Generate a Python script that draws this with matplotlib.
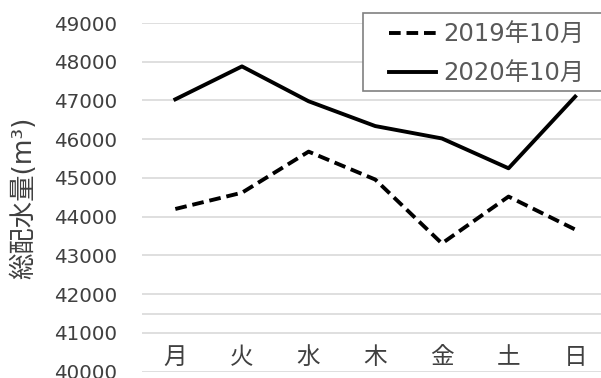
import matplotlib
matplotlib.use('Agg')
import matplotlib.pyplot as plt
from matplotlib.patches import Rectangle

plt.rcParams['font.family'] = ['DejaVu Sans', 'Noto Sans CJK JP']

days = ['月', '火', '水', '木', '金', '土', '日']
flow_2019 = [44200, 44620, 45680, 44960, 43310, 44520, 43670]
flow_2020 = [47030, 47880, 46980, 46340, 46020, 45250, 47100]
series_labels = ['2019年10月', '2020年10月']
y_ticks = list(range(40000, 49001, 1000))

W, H = 601, 378
fig = plt.figure(figsize=(W / 100, H / 100), dpi=100)
ax = fig.add_axes([142 / W, 6.3 / H, 466.5 / W, 348.7 / H])

x = range(len(days))
ax.plot(x, flow_2019, color='black', lw=2.8, linestyle=(0, (3, 1.5)),
        label=series_labels[0])
ax.plot(x, flow_2020, color='black', lw=2.8, label=series_labels[1])

ax.set_xlim(-0.5, 6.5)
ax.set_ylim(40000, 49000)
ax.set_yticks(y_ticks)
ax.set_yticklabels([str(v) for v in y_ticks])
ax.grid(axis='y', color='#d9d9d9', lw=1.2)
ax.axhline(41500, color='#d9d9d9', lw=1.2, zorder=0)
ax.set_axisbelow(True)
for s in ax.spines.values():
    s.set_visible(False)

ax.set_xticks(list(x))
ax.set_xticklabels(days, fontsize=17, color='#404040')
ax.tick_params(axis='x', length=0, pad=-19)
ax.tick_params(axis='y', length=0, pad=18, labelsize=14.3, labelcolor='#404040')

ax.set_ylabel('総配水量(m³)', fontsize=19, color='#404040')
ax.yaxis.set_label_coords(-105 / 466.5, 0.5)

# legend box drawn separately so the padding can be set per side
ax.add_patch(Rectangle((363 / W, 1 - 91 / H), 245 / W, 78 / H,
                       transform=fig.transFigure, facecolor='white',
                       edgecolor='#808080', lw=1.2, zorder=3, clip_on=False))
leg = ax.legend(loc='upper left', bbox_to_anchor=(389 / W, 1 - 22.5 / H),
                bbox_transform=fig.transFigure, borderaxespad=0, borderpad=0,
                fontsize=17.5, handlelength=1.95, handletextpad=0.3,
                labelspacing=0.62, frameon=False, labelcolor='#595959')
leg.set_zorder(4)

fig.savefig('out.png', dpi=100)
